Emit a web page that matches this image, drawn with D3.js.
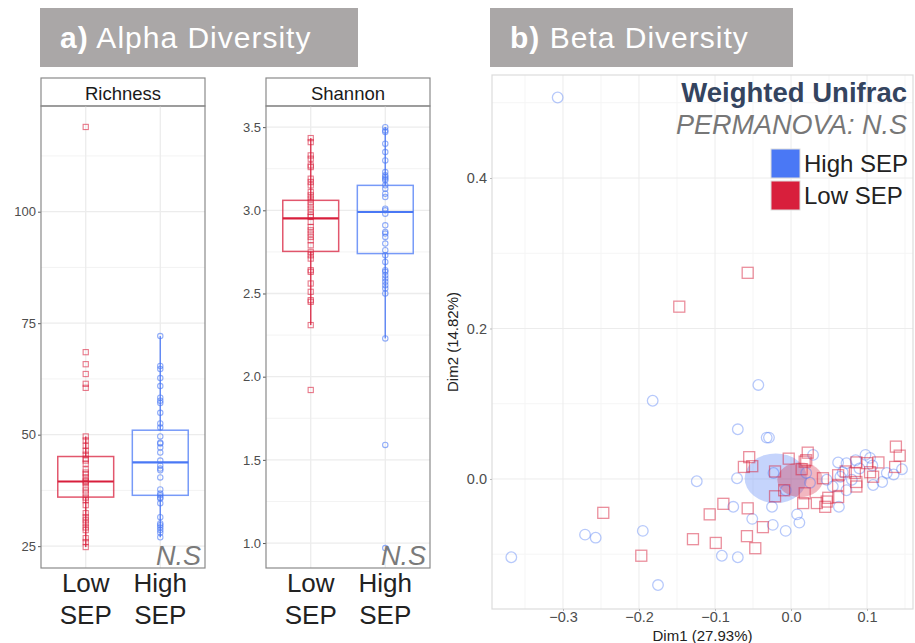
<!DOCTYPE html>
<html>
<head>
<meta charset="utf-8">
<script src="https://cdn.jsdelivr.net/npm/d3@7"></script>
<style>
  body { margin: 0; background: #fff; }
  svg { display: block; font-family: "Liberation Sans", Arial, sans-serif; }
</style>
</head>
<body>
<div id="chart"></div>
<script>
(() => {

  // ---- data ----
  const groups = ['Low SEP', 'High SEP'];

  // richness values per sample
  const richLow = [68.5, 65.8, 63.6, 61.4, 60.5, 49.6, 48.7, 47.5, 46.4, 45.5, 44.6, 44.2, 43.5, 42.2, 41.5,
    41.1, 40.4, 39.7, 39.5, 39.1, 38.2, 37.5, 36.8, 35.9, 35.3, 34.2, 32.4, 31.5, 30.8, 30.1, 29.2, 28.6,
    26.8, 25.9, 24.8, 119];
  const richHigh = [72.1, 65.4, 64.7, 62.7, 60.9, 58.3, 57.6, 57.1, 54.9, 52.5, 51.6, 49.6, 48.2, 48, 47.1,
    46, 44.2, 43.1, 42.4, 42, 40.4, 37.7, 36.8, 36.4, 35.9, 35.7, 34.6, 31.5, 30.1, 29.7, 29.2, 28.6, 28, 27];
  // [lower whisker, q1, median, q3, upper whisker]
  const richBoxLow = [24.8, 36, 39.5, 45.1, 49.6];
  const richBoxHigh = [27, 36.4, 43.8, 51, 72.1];

  const shanLow = [3.434, 3.41, 3.33, 3.31, 3.27, 3.26, 3.19, 3.17, 3.15, 3.11, 3.09, 3.07, 3.05, 3.03, 3.01,
    2.99, 2.97, 2.96, 2.93, 2.90, 2.88, 2.86, 2.84, 2.82, 2.79, 2.75, 2.73, 2.71, 2.64, 2.63, 2.56, 2.51,
    2.46, 2.45, 2.31, 1.92];
  const shanHigh = [3.5, 3.48, 3.47, 3.40, 3.35, 3.30, 3.23, 3.21, 3.20, 3.19, 3.18, 3.15, 3.13, 3.10, 3.08,
    3.01, 3.0, 2.98, 2.91, 2.87, 2.86, 2.84, 2.80, 2.76, 2.73, 2.69, 2.64, 2.63, 2.61, 2.59, 2.57, 2.55,
    2.53, 2.50, 2.23, 1.59, 0.97];
  const shanBoxLow = [2.31, 2.753, 2.952, 3.06, 3.434];
  const shanBoxHigh = [2.23, 2.74, 2.99, 3.15, 3.5];

  const richTicks = [25, 50, 75, 100];
  const shanTicks = [1.0, 1.5, 2.0, 2.5, 3.0, 3.5];

  // PCoA coordinates [Dim1, Dim2]
  const betaHigh = [[-0.307, 0.507], [-0.043, 0.125], [-0.182, 0.104], [-0.070, 0.066], [-0.032, 0.055],
    [-0.029, 0.055], [0.029, 0.032], [-0.071, 0.001], [-0.124, -0.003], [0.025, -0.005], [0.020, 0.008],
    [0.047, -0.001], [0.062, 0.022], [0.073, 0.021], [0.068, 0.009], [0.098, 0.032], [0.104, 0.028],
    [0.108, -0.008], [0.120, -0.004], [0.126, 0.008], [0.146, 0.013], [0.073, -0.015], [0.063, -0.037],
    [-0.023, 0.008], [-0.007, -0.015], [-0.076, -0.037], [-0.025, -0.037], [-0.051, -0.053], [0.008, -0.047],
    [0.011, -0.058], [-0.024, -0.061], [-0.007, -0.069], [-0.271, -0.074], [-0.257, -0.078], [-0.195, -0.069],
    [-0.368, -0.104], [-0.091, -0.102], [-0.070, -0.104], [-0.175, -0.141], [0.065, 0.003], [0.090, 0.014],
    [0.107, 0.018], [0.080, -0.001], [0.135, 0.006], [0.055, -0.010], [0.085, 0.025]];
  const betaLow = [[-0.057, 0.274], [-0.147, 0.229], [0.022, 0.035], [0.138, 0.043], [0.143, 0.031],
    [-0.055, 0.029], [-0.062, 0.016], [-0.051, 0.017], [-0.003, 0.027], [-0.021, 0.010], [0.014, 0.013],
    [0.018, 0.023], [-0.009, -0.015], [-0.021, -0.023], [0.018, -0.019], [0.016, -0.032], [0.042, 0.001],
    [0.062, 0.005], [0.062, -0.008], [0.086, 0.022], [0.100, 0.021], [0.115, 0.022], [0.084, 0.008],
    [0.086, -0.004], [0.086, -0.010], [0.104, 0.009], [0.108, 0.003], [0.137, 0.016], [0.062, -0.024],
    [0.049, -0.025], [0.047, -0.030], [0.045, -0.037], [0.034, -0.032], [-0.089, -0.033], [-0.057, -0.039],
    [-0.107, -0.047], [-0.037, -0.064], [-0.247, -0.045], [-0.129, -0.080], [-0.099, -0.085], [-0.058, -0.076],
    [-0.047, -0.092], [-0.197, -0.102], [0.020, 0.025], [0.072, 0.010]];
  // [cx, cy, rx, ry] in data units
  const ellHigh = [-0.02, 0.001, 0.041, 0.033];
  const ellLow = [0.012, -0.001, 0.030, 0.023];
  const betaXTicks = [-0.3, -0.2, -0.1, 0.0, 0.1];
  const betaYTicks = [0.0, 0.2, 0.4];

  const RED = '#d81f3c';
  const BLUE = '#4a78f5';
  const GRID = '#ececec';

  let svg = d3.select('#chart')
    .append('svg')
    .attr('width', 915)
    .attr('height', 643);

  // ---- title boxes ----
  function titleBox(x, w, letter, label) {
    svg.append('rect')
      .attr('x', x).attr('y', 8).attr('width', w).attr('height', 59)
      .attr('fill', '#aaa7a7');
    let t = svg.append('text')
      .attr('x', x + 20).attr('y', 48)
      .attr('fill', '#fff')
      .style('font-size', '30px')
      .style('letter-spacing', '1px');
    t.append('tspan').style('font-weight', 'bold').text(letter);
    t.append('tspan').text(' ' + label);
  }
  titleBox(40, 318, 'a)', 'Alpha Diversity');
  titleBox(490, 303, 'b)', 'Beta Diversity');

  // ---- alpha boxplot panels ----
  function boxPanel(opt) {
    let g = svg.append('g');
    let top = 106, bottom = 568;

    let x = d3.scalePoint().domain(groups).range([opt.x0, opt.x1]).padding(0.6);
    let y = d3.scaleLinear().domain(opt.domain).range([bottom, top]);
    let bw = x.step() * 0.75;

    // strip
    g.append('rect')
      .attr('x', opt.x0).attr('y', 78).attr('width', opt.x1 - opt.x0).attr('height', top - 78)
      .attr('fill', '#fff').attr('stroke', '#8a8a8a').attr('stroke-width', 1.2);
    g.append('text')
      .attr('x', (opt.x0 + opt.x1) / 2).attr('y', 100)
      .attr('text-anchor', 'middle')
      .style('font-size', '18.5px').attr('fill', '#1a1a1a')
      .text(opt.title);

    // grid
    let minor = opt.ticks.slice(0, -1).map((d, i) => (d + opt.ticks[i + 1]) / 2);
    minor.push(opt.ticks[opt.ticks.length - 1] + (opt.ticks[1] - opt.ticks[0]) / 2);
    minor.unshift(opt.ticks[0] - (opt.ticks[1] - opt.ticks[0]) / 2);
    minor = minor.filter(d => y(d) > top && y(d) < bottom);
    g.selectAll('.minor').data(minor).enter().append('line')
      .attr('x1', opt.x0).attr('x2', opt.x1)
      .attr('y1', d => y(d)).attr('y2', d => y(d))
      .attr('stroke', '#f3f3f3').attr('stroke-width', 1);
    g.selectAll('.major').data(opt.ticks).enter().append('line')
      .attr('x1', opt.x0).attr('x2', opt.x1)
      .attr('y1', d => y(d)).attr('y2', d => y(d))
      .attr('stroke', GRID).attr('stroke-width', 1.3);
    g.selectAll('.vgrid').data(groups).enter().append('line')
      .attr('x1', d => x(d)).attr('x2', d => x(d))
      .attr('y1', top).attr('y2', bottom)
      .attr('stroke', GRID).attr('stroke-width', 1.3);

    // y axis
    let yAxis = d3.axisLeft(y).tickValues(opt.ticks).tickSize(3).tickPadding(2)
      .tickFormat(opt.fmt);
    let ax = g.append('g').attr('transform', `translate(${opt.x0},0)`).call(yAxis);
    ax.select('.domain').remove();
    ax.selectAll('line').attr('stroke', '#555');
    ax.selectAll('text').attr('fill', '#4d4d4d').style('font-size', '13px')
      .style('font-family', '"Liberation Sans", Arial, sans-serif');

    // boxes
    let sets = [
      { grp: 'Low SEP', col: RED, box: opt.boxLow, pts: opt.low, shape: 'square' },
      { grp: 'High SEP', col: BLUE, box: opt.boxHigh, pts: opt.high, shape: 'circle' }
    ];
    sets.forEach(s => {
      let cx = x(s.grp);
      let b = s.box;
      g.append('line')
        .attr('x1', cx).attr('x2', cx).attr('y1', y(b[0])).attr('y2', y(b[1]))
        .attr('stroke', s.col).attr('stroke-width', 1.5).attr('stroke-opacity', 0.85);
      g.append('line')
        .attr('x1', cx).attr('x2', cx).attr('y1', y(b[3])).attr('y2', y(b[4]))
        .attr('stroke', s.col).attr('stroke-width', 1.5).attr('stroke-opacity', 0.85);
      g.append('rect')
        .attr('x', cx - bw / 2).attr('width', bw)
        .attr('y', y(b[3])).attr('height', y(b[1]) - y(b[3]))
        .attr('fill', 'none').attr('stroke', s.col).attr('stroke-width', 1.5).attr('stroke-opacity', 0.75);
      g.append('line')
        .attr('x1', cx - bw / 2).attr('x2', cx + bw / 2).attr('y1', y(b[2])).attr('y2', y(b[2]))
        .attr('stroke', s.col).attr('stroke-width', 2.2);

      if (s.shape === 'square') {
        g.selectAll(null).data(s.pts).enter().append('rect')
          .attr('x', cx - 2.6).attr('y', d => y(d) - 2.6)
          .attr('width', 5.2).attr('height', 5.2)
          .attr('fill', 'none').attr('stroke', s.col).attr('stroke-opacity', 0.6).attr('stroke-width', 1.1);
      } else {
        g.selectAll(null).data(s.pts).enter().append('circle')
          .attr('cx', cx).attr('cy', d => y(d)).attr('r', 2.7)
          .attr('fill', 'none').attr('stroke', s.col).attr('stroke-opacity', 0.6).attr('stroke-width', 1.1);
      }
    });

    // panel border
    g.append('rect')
      .attr('x', opt.x0).attr('y', top).attr('width', opt.x1 - opt.x0).attr('height', bottom - top)
      .attr('fill', 'none').attr('stroke', '#8a8a8a').attr('stroke-width', 1.2);

    // N.S
    g.append('text')
      .attr('x', opt.x1 - 4).attr('y', bottom - 3)
      .attr('text-anchor', 'end')
      .style('font-size', '27px').style('font-style', 'italic')
      .attr('fill', '#7a7a7a')
      .text('N.S');

    // category labels
    groups.forEach(grp => {
      let parts = grp.split(' ');
      g.append('text')
        .attr('x', x(grp)).attr('y', 592)
        .attr('text-anchor', 'middle').attr('fill', '#222')
        .style('font-size', '26px')
        .text(parts[0]);
      g.append('text')
        .attr('x', x(grp)).attr('y', 624)
        .attr('text-anchor', 'middle').attr('fill', '#222')
        .style('font-size', '26px')
        .text(parts[1]);
    });
  }

  boxPanel({
    x0: 41, x1: 205, title: 'Richness', domain: [20.1, 123.7], ticks: richTicks,
    fmt: d3.format('d'), low: richLow, high: richHigh, boxLow: richBoxLow, boxHigh: richBoxHigh
  });
  boxPanel({
    x0: 266, x1: 430, title: 'Shannon', domain: [0.85, 3.627], ticks: shanTicks,
    fmt: d3.format('.1f'), low: shanLow, high: shanHigh, boxLow: shanBoxLow, boxHigh: shanBoxHigh
  });

  // ---- beta diversity ordination ----
  let bx0 = 492, bx1 = 913, by0 = 75, by1 = 609;
  let bX = d3.scaleLinear().domain([-0.3934, 0.1605]).range([bx0, bx1]);
  let bY = d3.scaleLinear().domain([-0.1728, 0.5369]).range([by1, by0]);

  let beta = svg.append('g');
  let xMinor = [-0.35, -0.25, -0.15, -0.05, 0.05, 0.15];
  let yMinor = [-0.1, 0.1, 0.3, 0.5];
  beta.selectAll(null).data(xMinor).enter().append('line')
    .attr('x1', d => bX(d)).attr('x2', d => bX(d)).attr('y1', by0).attr('y2', by1)
    .attr('stroke', '#f5f5f5');
  beta.selectAll(null).data(yMinor).enter().append('line')
    .attr('x1', bx0).attr('x2', bx1).attr('y1', d => bY(d)).attr('y2', d => bY(d))
    .attr('stroke', '#f5f5f5');
  beta.selectAll(null).data(betaXTicks).enter().append('line')
    .attr('x1', d => bX(d)).attr('x2', d => bX(d)).attr('y1', by0).attr('y2', by1)
    .attr('stroke', GRID);
  beta.selectAll(null).data(betaYTicks).enter().append('line')
    .attr('x1', bx0).attr('x2', bx1).attr('y1', d => bY(d)).attr('y2', d => bY(d))
    .attr('stroke', GRID);

  beta.append('rect')
    .attr('x', bx0).attr('y', by0).attr('width', bx1 - bx0).attr('height', by1 - by0)
    .attr('fill', 'none').attr('stroke', '#dcdcdc').attr('stroke-width', 1.2);

  let xAx = beta.append('g').attr('transform', `translate(0,${by1})`)
    .call(d3.axisBottom(bX).tickValues(betaXTicks).tickSize(2).tickPadding(1).tickFormat(d3.format('.1f')));
  let yAx = beta.append('g').attr('transform', `translate(${bx0},0)`)
    .call(d3.axisLeft(bY).tickValues(betaYTicks).tickSize(2).tickPadding(3).tickFormat(d3.format('.1f')));
  [xAx, yAx].forEach(a => {
    a.select('.domain').remove();
    a.selectAll('line').attr('stroke', '#bbb');
    a.selectAll('text').attr('fill', '#4d4d4d').style('font-size', '14.5px')
      .style('font-family', '"Liberation Sans", Arial, sans-serif');
  });

  beta.append('text')
    .attr('x', (bx0 + bx1) / 2).attr('y', 641)
    .attr('text-anchor', 'middle').attr('fill', '#222')
    .style('font-size', '15px')
    .text('Dim1 (27.93%)');
  beta.append('text')
    .attr('transform', `translate(458,${(by0 + by1) / 2}) rotate(-90)`)
    .attr('text-anchor', 'middle').attr('fill', '#222')
    .style('font-size', '15px')
    .text('Dim2 (14.82%)');

  // ellipses
  [[ellHigh, BLUE], [ellLow, RED]].forEach(([e, col]) => {
    beta.append('ellipse')
      .attr('cx', bX(e[0])).attr('cy', bY(e[1]))
      .attr('rx', bX(e[0] + e[2]) - bX(e[0]))
      .attr('ry', bY(e[1]) - bY(e[1] + e[3]))
      .attr('fill', col).attr('fill-opacity', 0.32);
  });

  beta.selectAll('.hi').data(betaHigh).enter().append('circle')
    .attr('cx', d => bX(d[0])).attr('cy', d => bY(d[1])).attr('r', 5.3)
    .attr('fill', 'none').attr('stroke', BLUE).attr('stroke-opacity', 0.4).attr('stroke-width', 1.3);
  beta.selectAll('.lo').data(betaLow).enter().append('rect')
    .attr('x', d => bX(d[0]) - 5.5).attr('y', d => bY(d[1]) - 5.5)
    .attr('width', 11).attr('height', 11)
    .attr('fill', 'none').attr('stroke', RED).attr('stroke-opacity', 0.5).attr('stroke-width', 1.3);

  // header + legend
  beta.append('text')
    .attr('x', 907).attr('y', 102).attr('text-anchor', 'end')
    .attr('fill', '#34445f').style('font-size', '27.5px').style('font-weight', 'bold')
    .text('Weighted Unifrac');
  beta.append('text')
    .attr('x', 907).attr('y', 134).attr('text-anchor', 'end')
    .attr('fill', '#777').style('font-size', '27px').style('font-style', 'italic')
    .text('PERMANOVA: N.S');

  let legend = [['High SEP', BLUE], ['Low SEP', RED]];
  legend.forEach(([lab, col], i) => {
    beta.append('rect')
      .attr('x', 771).attr('y', 149 + i * 32).attr('width', 29).attr('height', 29)
      .attr('fill', col).attr('stroke', '#ddd');
    beta.append('text')
      .attr('x', 804).attr('y', 172 + i * 32)
      .attr('fill', '#222').style('font-size', '24px')
      .text(lab);
  });

})();
</script>
</body>
</html>
